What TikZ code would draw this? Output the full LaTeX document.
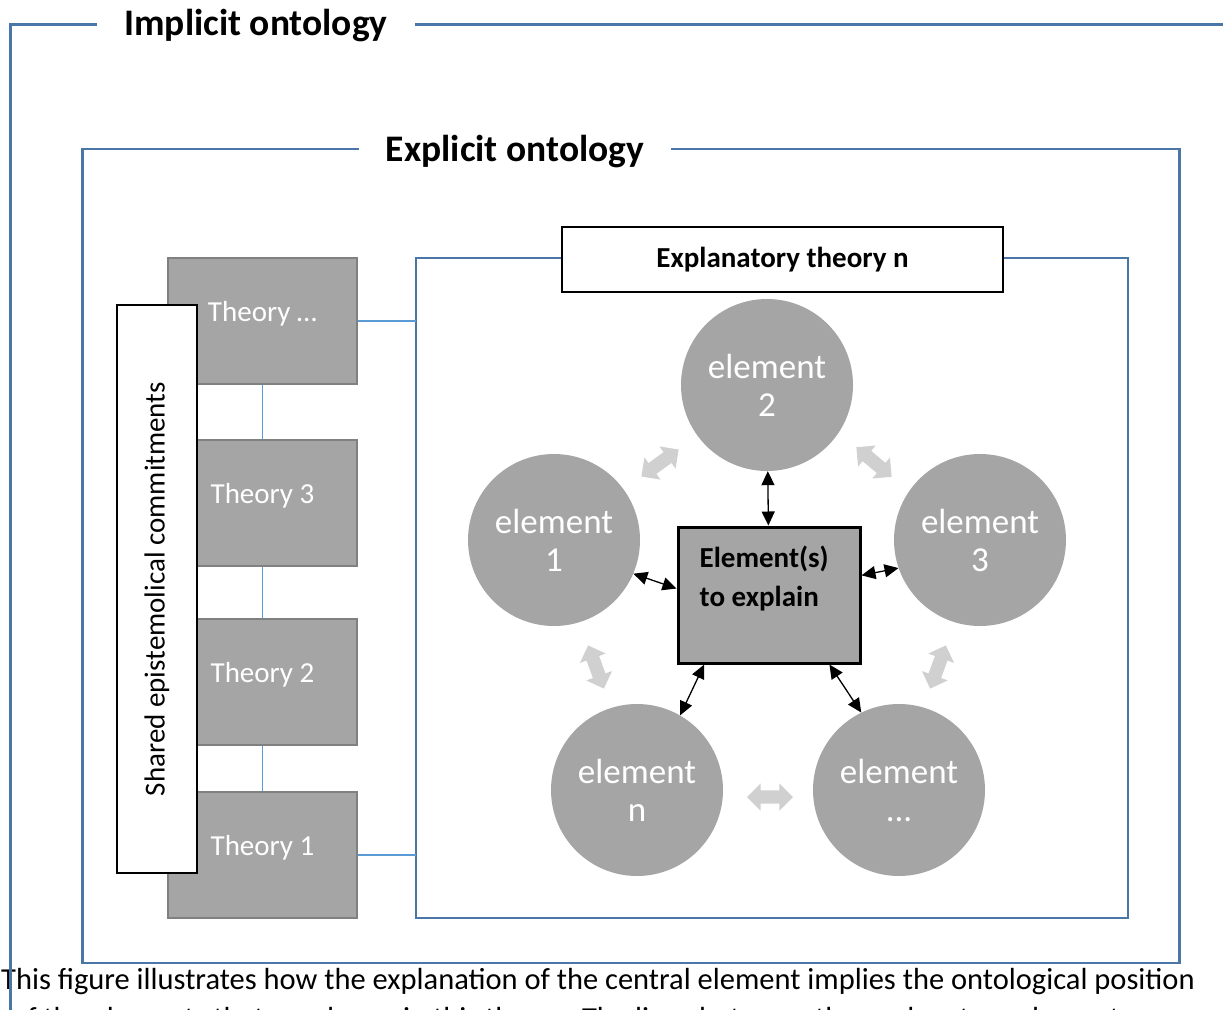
\documentclass[tikz,border=0pt]{standalone}
\usepackage{fontspec}
\setmainfont{Carlito}
\usetikzlibrary{arrows.meta,positioning,shapes.arrows,calc}

\definecolor{frameblue}{HTML}{4A76A8}
\definecolor{wireblue}{HTML}{5B9BD5}
\definecolor{boxgray}{HTML}{A5A5A5}
\definecolor{edgegray}{HTML}{808080}
\definecolor{flowgray}{HTML}{D0D0D0}

\begin{document}
\begin{tikzpicture}[
  x=1pt, y=-1pt,
  ontoframe/.style={draw=frameblue, line width=2.5pt, outer sep=0pt, inner sep=0pt},
  frametitle/.style={fill=white, inner xsep=27pt, inner ysep=2pt, font=\fontsize{37.5}{45}\selectfont\bfseries},
  theory/.style={draw=edgegray, line width=2pt, fill=boxgray, minimum width=189pt, minimum height=126pt, text=white, font=\fontsize{29}{35}\selectfont, text height=19pt, text depth=19pt},
  wire/.style={draw=wireblue, line width=1.2pt},
  element/.style={circle, fill=boxgray, minimum size=172pt, inner sep=0pt, text=white, align=center, font=\fontsize{35}{38}\selectfont},
  link/.style={{Triangle[length=14pt,width=13pt]}-{Triangle[length=14pt,width=13pt]}, line width=1.3pt},
  flow/.style={double arrow, fill=flowgray, minimum height=46pt, minimum width=27pt, double arrow head extend=7pt, inner xsep=0pt, inner ysep=6.5pt},
  captionline/.style={anchor=base west, inner sep=0pt, font=\fontsize{30.5}{37}\selectfont}
]
\clip (0,0) rectangle (1223,1009);

% caption under the figure
\node[captionline] (caption1) at (1,989) {This figure illustrates how the explanation of the central element implies the ontological position};
\node[captionline] (caption2) at (11,1028) {of the elements that are drawn in this theory. The lines between the explanatory elements represent};

% frames
\node[ontoframe, anchor=north west, minimum width=1400pt, minimum height=1200pt] (implicit) at (10.5,24.5) {};
\node[ontoframe, minimum width=1097pt, minimum height=814pt] (explicit) at (631,556) {};
\node[ontoframe, minimum width=712pt, minimum height=660pt] (theoryn) at (772,588) {};
\node[frametitle] (implicittitle) at (256,26) {Implicit ontology};
\node[frametitle] (explicittitle) at (515,152) {Explicit ontology};

% theories
\node[theory] (thdots) at (262.5,321) {Theory \dots};
\node[theory] (th3) at (262.5,503) {Theory 3};
\node[theory] (th2) at (262.5,682) {Theory 2};
\node[theory] (th1) at (262.5,855) {Theory 1};
\draw[wire] (thdots) -- (th3);
\draw[wire] (th3) -- (th2);
\draw[wire] (th2) -- (th1);
\draw[wire] (thdots.east) -- (thdots.east -| theoryn.west);
\draw[wire] (th1.east) -- (th1.east -| theoryn.west);

\node[draw, line width=1.2pt, fill=white, rotate=90, minimum width=568pt, minimum height=80pt, inner sep=0pt, font=\fontsize{29}{35}\selectfont] (shared) at (157,589) {Shared epistemolical commitments};

\node[draw, line width=1.1pt, fill=white, minimum width=441pt, minimum height=65pt, font=\fontsize{29}{35}\selectfont\bfseries] (theorylabel) at (782.5,259.5) {Explanatory theory n};

% elements around the explained one
\node[element] (el2) at (767,385) {element\\2};
\node[element] (el1) at (554,540) {element\\1};
\node[element] (el3) at (980,540) {element\\3};
\node[element] (eln) at (637,790) {element\\n};
\node[element] (eldots) at (899,790) {element\\...};

\node[flow, rotate=36] (flow12) at (660,463) {};
\node[flow, rotate=-40] (flow23) at (874,462) {};
\node[flow, rotate=-70] (flow1n) at (596,667) {};
\node[flow, rotate=70] (flow3d) at (938,667) {};
\node[flow] (flownd) at (770,797) {};

\node[draw, line width=3pt, fill=boxgray, minimum width=182pt, minimum height=136pt,
  label={[anchor=north west, align=left, inner sep=0pt, xshift=23pt, yshift=-20pt, font=\fontsize{29}{39}\selectfont\bfseries]north west:{Element(s)\\to explain}}] (target) at (769,595) {};

\draw[link] (el2) -- (target);
\draw[link] (el1.-23) -- (target.176);
\draw[link] (target.12) -- (el3.199);
\draw[link] (target.227) -- (eln.60);
\draw[link] (target.311) -- (eldots.116);
\end{tikzpicture}
\end{document}
